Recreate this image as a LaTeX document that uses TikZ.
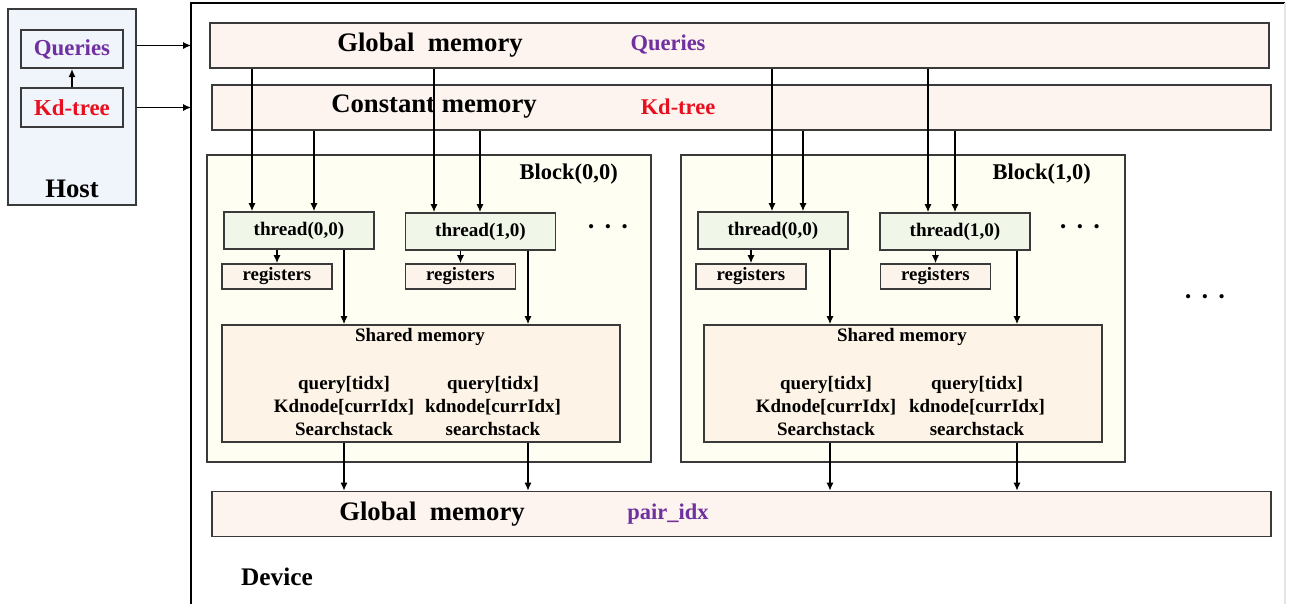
\documentclass[tikz,border=0pt]{standalone}
\usepackage{fontspec}
\setmainfont{Liberation Serif}
\usetikzlibrary{arrows.meta,positioning}

\definecolor{hostfill}{RGB}{239,245,251}
\definecolor{memfill}{RGB}{253,244,239}
\definecolor{blockfill}{RGB}{254,254,242}
\definecolor{threadfill}{RGB}{240,246,232}
\definecolor{regfill}{RGB}{252,243,234}
\definecolor{sharedfill}{RGB}{253,243,230}
\definecolor{querycol}{RGB}{112,48,160}
\definecolor{kdcol}{RGB}{232,16,30}
\definecolor{edgecol}{RGB}{58,58,58}

\begin{document}
\begin{tikzpicture}[
  x=0.02cm, y=-0.02cm,
  every node/.style={font=\bfseries},
  boxed/.style={draw=edgecol, line width=1pt, inner sep=0pt},
  hostbox/.style={boxed, fill=hostfill, minimum width=2.56cm, minimum height=3.92cm},
  hostitem/.style={boxed, fill=hostfill, minimum width=2.04cm, minimum height=0.77cm, font=\bfseries\fontsize{13}{15}\selectfont},
  membar/.style={boxed, fill=memfill, minimum width=21.18cm, minimum height=0.9cm},
  blockbox/.style={boxed, fill=blockfill, minimum width=8.88cm, minimum height=6.14cm},
  threadbox/.style={boxed, fill=threadfill, minimum width=3cm, minimum height=0.74cm, font=\bfseries\fontsize{10.9}{13}\selectfont},
  regbox/.style={boxed, fill=regfill, minimum width=2.2cm, minimum height=0.5cm, font=\bfseries\fontsize{10.7}{13}\selectfont},
  sharedbox/.style={boxed, fill=sharedfill, minimum width=7.96cm, minimum height=2.34cm},
  biglabel/.style={font=\bfseries\fontsize{15.2}{18}\selectfont},
  memtag/.style={font=\bfseries\fontsize{12.8}{15}\selectfont},
  smalltext/.style={font=\bfseries\fontsize{10.8}{13}\selectfont, align=center},
  moredots/.style={font=\fontsize{10}{12}\selectfont},
  arrow/.style={-{Latex[length=4.5pt,width=4pt]}, line width=0.7pt}
]
\useasboundingbox (0,0) rectangle (1291,603);

% host side
\node[hostbox] (host) at (72,107) {};
\node[hostitem, text=querycol] (hquery) at (72,49) {Queries};
\node[hostitem, text=kdcol] (hkd) at (72,107.5) {Kd-tree};
\node[biglabel] (hostname) at (72,189) {Host};
\draw[arrow] (hkd) -- (hquery);

% device frame (open at the bottom)
\coordinate (devnw) at (191,3);
\coordinate (devne) at (1285,3);
\coordinate (devsw) at (191,650);
\coordinate (devse) at (1285,650);
\draw[line width=0.9pt] (devsw) -- (devnw) -- (devne);
\draw[black!10, line width=0.9pt] (devne) -- (devse);
\node[font=\bfseries\fontsize{14.4}{17}\selectfont] (devname) at (277,577) {Device};

% memories
\node[membar] (gmem) at (739.5,45.5) {};
\node[biglabel] (gmemname) at (430,45) {Global\ \ memory};
\node[memtag, text=querycol] (gmemdata) at (668,45) {Queries};
\node[membar] (cmem) at (741.5,107.5) {};
\node[biglabel] (cmemname) at (434,107) {Constant memory};
\node[memtag, text=kdcol] (cmemdata) at (678,107) {Kd-tree};

\draw[arrow] (host.east |- gmem) -- (devnw |- gmem);
\draw[arrow] (host.east |- cmem) -- (devnw |- cmem);

% blocks
\node[blockbox] (blk0) at (429,308.5) {};
\node[blockbox] (blk1) at (903,308.5) {};
\node[memtag, anchor=east] (blk0name) at (624,174) {Block(0,0)};
\node[memtag, anchor=east] (blk1name) at (1097,174) {Block(1,0)};

\node[threadbox] (thr00) at (299,230.5) {thread(0,0)};
\node[threadbox] (thr01) at (480.5,231.5) {thread(1,0)};
\node[threadbox] (thr10) at (773,230.5) {thread(0,0)};
\node[threadbox] (thr11) at (955,231.5) {thread(1,0)};

\node[regbox] (reg00) at (277,276.5) {registers};
\node[regbox] (reg01) at (460.5,276.5) {registers};
\node[regbox] (reg10) at (751,276.5) {registers};
\node[regbox] (reg11) at (935.5,276.5) {registers};

\node[moredots] (more0) at (608,229) {\textbullet\hspace{0.6em}\textbullet\hspace{0.6em}\textbullet};
\node[moredots] (more1) at (1080,229) {\textbullet\hspace{0.6em}\textbullet\hspace{0.6em}\textbullet};
\node[moredots] (moreblk) at (1205,299) {\textbullet\hspace{0.6em}\textbullet\hspace{0.6em}\textbullet};

\node[sharedbox] (shm0) at (421,383.5) {};
\node[sharedbox] (shm1) at (903,383.5) {};
\node[smalltext] (shm0name) at (420,337) {Shared memory};
\node[smalltext] (shm1name) at (902,337) {Shared memory};
\node[smalltext] (shm0a) at (344,406) {query[tidx]\\Kdnode[currIdx]\\Searchstack};
\node[smalltext] (shm0b) at (493,406) {query[tidx]\\kdnode[currIdx]\\searchstack};
\node[smalltext] (shm1a) at (826,406) {query[tidx]\\Kdnode[currIdx]\\Searchstack};
\node[smalltext] (shm1b) at (977,406) {query[tidx]\\kdnode[currIdx]\\searchstack};

\node[membar] (omem) at (741.5,514) {};
\node[biglabel] (omemname) at (432,514) {Global\ \ memory};
\node[memtag, text=querycol] (omemdata) at (668,514) {pair\_idx};

% columns of the links
\coordinate (gA) at (252,0);
\coordinate (gB) at (434,0);
\coordinate (gC) at (772,0);
\coordinate (gD) at (928,0);
\coordinate (cA) at (314,0);
\coordinate (cB) at (480,0);
\coordinate (cC) at (803,0);
\coordinate (cD) at (955,0);
\coordinate (sA) at (344,0);
\coordinate (sB) at (528,0);
\coordinate (sC) at (830,0);
\coordinate (sD) at (1017,0);

% global / constant memory into the threads
\draw[arrow] (gmem.south -| gA) -- (thr00.north -| gA);
\draw[arrow] (cmem.south -| cA) -- (thr00.north -| cA);
\draw[arrow] (gmem.south -| gB) -- (thr01.north -| gB);
\draw[arrow] (cmem.south -| cB) -- (thr01.north -| cB);
\draw[arrow] (gmem.south -| gC) -- (thr10.north -| gC);
\draw[arrow] (cmem.south -| cC) -- (thr10.north -| cC);
\draw[arrow] (gmem.south -| gD) -- (thr11.north -| gD);
\draw[arrow] (cmem.south -| cD) -- (thr11.north -| cD);

% threads to registers
\draw[arrow] (thr00.south -| reg00) -- (reg00);
\draw[arrow] (thr01.south -| reg01) -- (reg01);
\draw[arrow] (thr10.south -| reg10) -- (reg10);
\draw[arrow] (thr11.south -| reg11) -- (reg11);

% threads to shared memory, shared memory to global memory
\draw[arrow] (thr00.south -| sA) -- (shm0.north -| sA);
\draw[arrow] (thr01.south -| sB) -- (shm0.north -| sB);
\draw[arrow] (thr10.south -| sC) -- (shm1.north -| sC);
\draw[arrow] (thr11.south -| sD) -- (shm1.north -| sD);
\draw[arrow] (shm0.south -| sA) -- (omem.north -| sA);
\draw[arrow] (shm0.south -| sB) -- (omem.north -| sB);
\draw[arrow] (shm1.south -| sC) -- (omem.north -| sC);
\draw[arrow] (shm1.south -| sD) -- (omem.north -| sD);
\end{tikzpicture}
\end{document}
